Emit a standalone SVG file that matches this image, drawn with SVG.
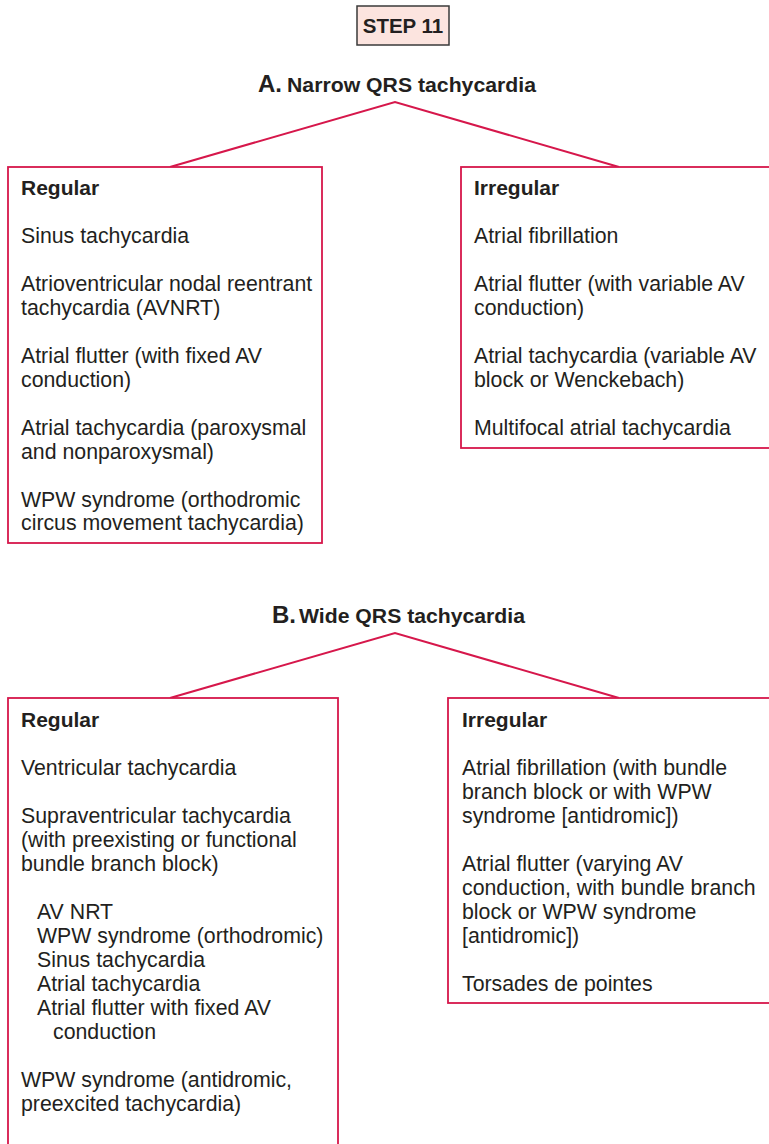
<svg xmlns="http://www.w3.org/2000/svg" width="769" height="1144" viewBox="0 0 769 1144">
<style>
  .box { fill: #ffffff; stroke: #d6174b; stroke-width: 1.8; }
  .conn { fill: none; stroke: #d6174b; stroke-width: 2; stroke-linejoin: miter; }
  .t { font-family: "Liberation Sans", Arial, sans-serif; font-size: 21.3px; fill: #231f20; }
  .b { font-family: "Liberation Sans", Arial, sans-serif; font-size: 21px; font-weight: bold; fill: #231f20; }
  .h { font-family: "Liberation Sans", Arial, sans-serif; font-size: 21px; font-weight: bold; fill: #231f20; }
  .hl { font-family: "Liberation Sans", Arial, sans-serif; font-size: 24px; font-weight: bold; fill: #231f20; }
</style>
<rect width="769" height="1144" fill="#ffffff"/>

<g id="step">
  <rect x="357" y="6" width="92" height="39" fill="#fce4df" stroke="#3a3a3a" stroke-width="1.5"/>
  <text x="403" y="32.5" text-anchor="middle" font-family="Liberation Sans, Arial, sans-serif" font-size="20.5" font-weight="bold" fill="#231f20">STEP 11</text>
</g>

<g id="headerA">
  <text x="258" y="92" class="hl">A.</text>
  <text x="287" y="92" class="h" textLength="249" lengthAdjust="spacingAndGlyphs">Narrow QRS tachycardia</text>
</g>

<g id="headerB">
  <text x="272" y="623" class="hl">B.</text>
  <text x="299" y="623" class="h" textLength="226" lengthAdjust="spacingAndGlyphs">Wide QRS tachycardia</text>
</g>

<g id="connectors">
  <polyline class="conn" points="170,167 395,102 619,167"/>
  <polyline class="conn" points="170,698 395,633 619,698"/>
</g>

<g id="A-regular">
  <rect class="box" x="8" y="167" width="314" height="376"/>
  <text class="b" x="21" y="195">Regular</text>
  <text class="t" x="21" y="243">Sinus tachycardia</text>
  <text class="t" x="21" y="291">Atrioventricular nodal reentrant</text>
  <text class="t" x="21" y="314.5">tachycardia (AVNRT)</text>
  <text class="t" x="21" y="363">Atrial flutter (with fixed AV</text>
  <text class="t" x="21" y="386.5">conduction)</text>
  <text class="t" x="21" y="434.5">Atrial tachycardia (paroxysmal</text>
  <text class="t" x="21" y="458.5">and nonparoxysmal)</text>
  <text class="t" x="21" y="506.5">WPW syndrome (orthodromic</text>
  <text class="t" x="21" y="530">circus movement tachycardia)</text>
</g>

<g id="A-irregular">
  <rect class="box" x="461" y="167" width="316" height="281"/>
  <text class="b" x="474" y="195">Irregular</text>
  <text class="t" x="474" y="243">Atrial fibrillation</text>
  <text class="t" x="474" y="291">Atrial flutter (with variable AV</text>
  <text class="t" x="474" y="314.5">conduction)</text>
  <text class="t" x="474" y="363">Atrial tachycardia (variable AV</text>
  <text class="t" x="474" y="386.5">block or Wenckebach)</text>
  <text class="t" x="474" y="434.5">Multifocal atrial tachycardia</text>
</g>

<g id="B-regular">
  <rect class="box" x="8" y="698" width="330" height="460"/>
  <text class="b" x="21" y="727">Regular</text>
  <text class="t" x="21" y="775">Ventricular tachycardia</text>
  <text class="t" x="21" y="823">Supraventricular tachycardia</text>
  <text class="t" x="21" y="847">(with preexisting or functional</text>
  <text class="t" x="21" y="871">bundle branch block)</text>
  <text class="t" x="37" y="919">AV NRT</text>
  <text class="t" x="37" y="943">WPW syndrome (orthodromic)</text>
  <text class="t" x="37" y="967">Sinus tachycardia</text>
  <text class="t" x="37" y="991">Atrial tachycardia</text>
  <text class="t" x="37" y="1015">Atrial flutter with fixed AV</text>
  <text class="t" x="53" y="1038.5">conduction</text>
  <text class="t" x="21" y="1087">WPW syndrome (antidromic,</text>
  <text class="t" x="21" y="1111">preexcited tachycardia)</text>
</g>

<g id="B-irregular">
  <rect class="box" x="448" y="698" width="329" height="305"/>
  <text class="b" x="462" y="727">Irregular</text>
  <text class="t" x="462" y="775">Atrial fibrillation (with bundle</text>
  <text class="t" x="462" y="799">branch block or with WPW</text>
  <text class="t" x="462" y="823">syndrome [antidromic])</text>
  <text class="t" x="462" y="871">Atrial flutter (varying AV</text>
  <text class="t" x="462" y="894.5">conduction, with bundle branch</text>
  <text class="t" x="462" y="918.5">block or WPW syndrome</text>
  <text class="t" x="462" y="942.5">[antidromic])</text>
  <text class="t" x="462" y="991">Torsades de pointes</text>
</g>
</svg>
